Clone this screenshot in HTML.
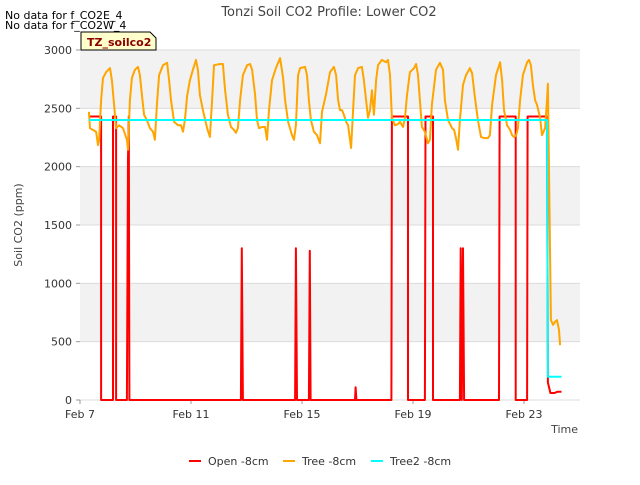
<!DOCTYPE html>
<html><head><meta charset="utf-8"><style>
body{margin:0;background:#fff;font-family:"Liberation Sans","DejaVu Sans",sans-serif;}
svg text{font-family:"DejaVu Sans","Liberation Sans",sans-serif;}
</style></head><body>
<svg id="c" width="640" height="480" xmlns="http://www.w3.org/2000/svg">
<rect width="640" height="480" fill="#fff"/>
<text x="329" y="16" text-anchor="middle" font-size="13" fill="#444">Tonzi Soil CO2 Profile: Lower CO2</text>
<text x="5" y="19" font-size="11" fill="#000">No data for f_CO2E_4</text>
<text x="5" y="29" font-size="11" fill="#000">No data for f_CO2W_4</text>
<g id="plot"></g>
<g>
<path d="M81 32 H150 L156 38 V50 H81 Z" fill="#ffffcc" stroke="#000"/>
<text x="87" y="46" font-size="11" font-weight="bold" fill="#8b0000">TZ_soilco2</text>
</g>
<text x="22" y="225" transform="rotate(-90 22 225)" text-anchor="middle" font-size="11" fill="#444">Soil CO2 (ppm)</text>
<text x="578" y="433" text-anchor="end" font-size="11" fill="#444">Time</text>
<g>
<g><line x1="189" y1="461" x2="201" y2="461" stroke="#ff0000" stroke-width="2"/><text x="208" y="465" font-size="11" fill="#333">Open -8cm</text></g>
<g><line x1="283" y1="461" x2="295" y2="461" stroke="#ffa500" stroke-width="2"/><text x="302" y="465" font-size="11" fill="#333">Tree -8cm</text></g>
<g><line x1="371" y1="461" x2="383" y2="461" stroke="#00ffff" stroke-width="2"/><text x="390" y="465" font-size="11" fill="#333">Tree2 -8cm</text></g>
</g>
</svg>
<script>
const yTicks=[0,500,1000,1500,2000,2500,3000];
const xTickLabels=["Feb 7","Feb 11","Feb 15","Feb 19","Feb 23"];
const xTickDays=[0,4,8,12,16];
const treeDays=[0.32,0.36,0.58,0.65,0.69,0.76,0.83,0.94,1.08,1.15,1.23,1.30,1.41,1.55,1.69,1.73,1.80,1.87,1.98,2.09,2.16,2.23,2.31,2.41,2.52,2.63,2.70,2.77,2.85,2.99,3.14,3.21,3.28,3.39,3.53,3.64,3.71,3.78,3.86,3.96,4.07,4.18,4.25,4.32,4.43,4.58,4.68,4.76,4.83,5.05,5.15,5.23,5.33,5.44,5.55,5.62,5.69,5.77,5.87,6.02,6.13,6.20,6.31,6.38,6.45,6.56,6.67,6.74,6.81,6.92,7.06,7.21,7.32,7.39,7.50,7.64,7.71,7.78,7.86,7.93,8.11,8.18,8.25,8.32,8.43,8.54,8.65,8.72,8.86,9.01,9.15,9.23,9.30,9.37,9.44,9.51,9.59,9.66,9.73,9.77,9.84,9.91,10.02,10.16,10.23,10.31,10.38,10.45,10.52,10.59,10.67,10.74,10.88,11.03,11.10,11.17,11.24,11.35,11.46,11.53,11.64,11.71,11.78,11.89,12.04,12.11,12.18,12.25,12.32,12.43,12.54,12.61,12.68,12.83,12.97,13.08,13.15,13.26,13.41,13.48,13.55,13.62,13.69,13.80,13.91,14.05,14.13,14.23,14.34,14.45,14.56,14.70,14.77,14.85,14.99,15.14,15.21,15.28,15.39,15.50,15.57,15.64,15.71,15.78,15.86,15.96,16.11,16.18,16.25,16.32,16.40,16.47,16.58,16.65,16.76,16.83,16.86,16.97,17.05,17.12,17.19,17.26,17.30];
const treeVals=[2470,2330,2300,2185,2230,2570,2760,2810,2845,2740,2530,2330,2355,2330,2230,2145,2570,2760,2830,2855,2785,2615,2445,2400,2330,2300,2230,2530,2785,2870,2890,2740,2570,2385,2355,2355,2300,2400,2605,2740,2830,2915,2830,2615,2485,2330,2255,2570,2870,2880,2880,2655,2445,2340,2315,2290,2330,2570,2785,2870,2880,2830,2615,2400,2330,2340,2340,2230,2485,2740,2845,2930,2760,2570,2385,2270,2230,2355,2785,2845,2855,2785,2570,2400,2300,2270,2200,2470,2615,2810,2855,2785,2570,2485,2485,2445,2385,2355,2230,2160,2485,2785,2845,2855,2740,2570,2420,2485,2655,2445,2740,2870,2915,2895,2915,2785,2420,2355,2365,2385,2340,2420,2605,2810,2845,2880,2785,2570,2340,2300,2200,2230,2530,2830,2890,2830,2570,2400,2330,2315,2245,2145,2400,2700,2785,2845,2800,2595,2400,2255,2245,2245,2270,2530,2785,2895,2740,2485,2355,2315,2270,2255,2265,2330,2570,2785,2895,2915,2870,2700,2570,2530,2420,2270,2330,2570,2710,685,645,670,685,600,470,360];
const openDays=[0.32,0.76,0.76,1.19,1.19,1.30,1.30,1.69,1.73,1.76,1.78,5.80,5.83,5.87,7.75,7.78,7.82,8.25,8.28,8.31,9.91,9.93,9.96,11.22,11.24,11.82,11.82,12.43,12.45,12.72,12.72,13.69,13.72,13.76,13.80,13.84,15.10,15.12,15.70,15.70,16.11,16.13,16.83,16.86,16.95,17.10,17.20,17.35];
const openVals=[2430,2430,0,0,2430,2430,0,0,2070,2430,0,0,1300,0,0,1300,0,0,1280,0,0,110,0,0,2430,2430,0,0,2430,2430,0,0,1300,0,1300,0,0,2430,2430,0,0,2430,2430,150,60,60,70,70];
const tree2Days=[0.32,16.83,16.86,17.35];
const tree2Vals=[2400,2400,200,200];

const X0=80,X1=580,Y0=400,Y1=50;
const xs=d=>X0+d*27.75;
const ys=v=>Y0-(v/3000)*(Y0-Y1);
const NS="http://www.w3.org/2000/svg";
const g=document.getElementById('plot');
function mk(t,a){const e=document.createElementNS(NS,t);for(const k in a)e.setAttribute(k,a[k]);g.appendChild(e);return e;}
for(let i=0;i<yTicks.length-1;i++){
  if(i%2===1){const b=mk('rect',{x:X0,y:ys(yTicks[i+1]),width:X1-X0,height:ys(yTicks[i])-ys(yTicks[i+1]),fill:'#f2f2f2'});
  
  }
}
yTicks.forEach(v=>{
  const l=mk('line',{x1:X0,x2:X1,y1:ys(v),y2:ys(v),stroke:'#dcdcdc'});
  
  
  const tk=mk('line',{x1:X0-4,x2:X0,y1:ys(v),y2:ys(v),stroke:'#999'});
  
  
  const t=mk('text',{x:X0-8,y:ys(v)+4,'text-anchor':'end','font-size':11,fill:'#333'});t.textContent=v;
  
  
});
xTickDays.forEach((d,i)=>{
  const tk=mk('line',{x1:xs(d),x2:xs(d),y1:Y0,y2:Y0+4,stroke:'#999'});
  
  
  const t=mk('text',{x:xs(d),y:Y0+18,'text-anchor':'middle','font-size':11,fill:'#333'});t.textContent=xTickLabels[i];
  
  
});
function line(ds,vs,col,name){
  const p=mk('polyline',{points:ds.map((d,i)=>xs(d).toFixed(1)+','+ys(vs[i]).toFixed(1)).join(' '),fill:'none',stroke:col,'stroke-width':2,'stroke-linejoin':'round'});
  
  
}
line(openDays,openVals,'#ff0000','series-open-8cm');
line(treeDays,treeVals,'#ffa500','series-tree-8cm');
line(tree2Days,tree2Vals,'#00ffff','series-tree2-8cm');
</script>
</body></html>
